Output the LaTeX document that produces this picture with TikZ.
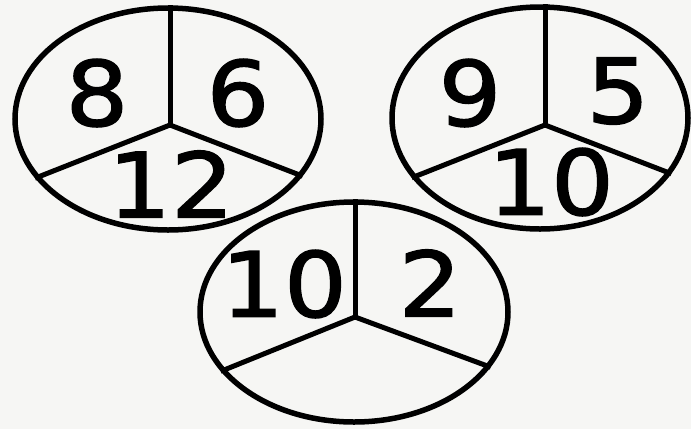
\documentclass[tikz,border=0pt]{standalone}
\usepackage{fontspec}
\setmainfont{DejaVu Sans}
\newfontfamily\digitfont[FakeBold=1.6, FakeStretch=1.1]{DejaVu Sans}
\usepackage{tikz}
\usetikzlibrary{shapes.geometric}
\definecolor{PaperColor}{RGB}{246,246,244}

\begin{document}
\begin{tikzpicture}[x=1pt, y=-1pt,
    wheel/.style={draw, ellipse, line width=5.5pt, inner sep=0pt},
    spoke/.style={line width=5pt},
    num/.style={inner sep=0pt, font=\digitfont\fontsize{90}{90}\selectfont}]
  \fill[PaperColor] (0,0) rectangle (691,429);
  \useasboundingbox (0,0) rectangle (691,429);
  % left wheel
  \node[wheel, minimum width=306pt, minimum height=222pt] (L) at (168,119) {};
  \coordinate (Lhub) at (170,125);
  \draw[spoke] (Lhub) -- (L.north -| Lhub);
  \draw[spoke] (Lhub) -- (L.204);
  \draw[spoke] (Lhub) -- (L.-23);
  \node[num] (La) at (97,93) {8};
  \node[num] (Lb) at (238,93) {6};
  \node[num] (Lc) at (171,184) {12};
  % right wheel
  \node[wheel, minimum width=296pt, minimum height=222pt] (R) at (540,118) {};
  \coordinate (Rhub) at (545,125);
  \draw[spoke] (Rhub) -- (R.north -| Rhub);
  \draw[spoke] (Rhub) -- (R.205);
  \draw[spoke] (Rhub) -- (R.-23);
  \node[num] (Ra) at (470,93) {9};
  \node[num] (Rb) at (618,91) {5};
  \node[num] (Rc) at (551,182) {10};
  % bottom wheel
  \node[wheel, minimum width=308pt, minimum height=220pt] (B) at (354,312) {};
  \coordinate (Bhub) at (355,317);
  \draw[spoke] (Bhub) -- (B.north -| Bhub);
  \draw[spoke] (Bhub) -- (B.204);
  \draw[spoke] (Bhub) -- (B.-22);
  \node[num] (Ba) at (284,284) {10};
  \node[num] (Bb) at (430,283) {2};
\end{tikzpicture}
\end{document}
